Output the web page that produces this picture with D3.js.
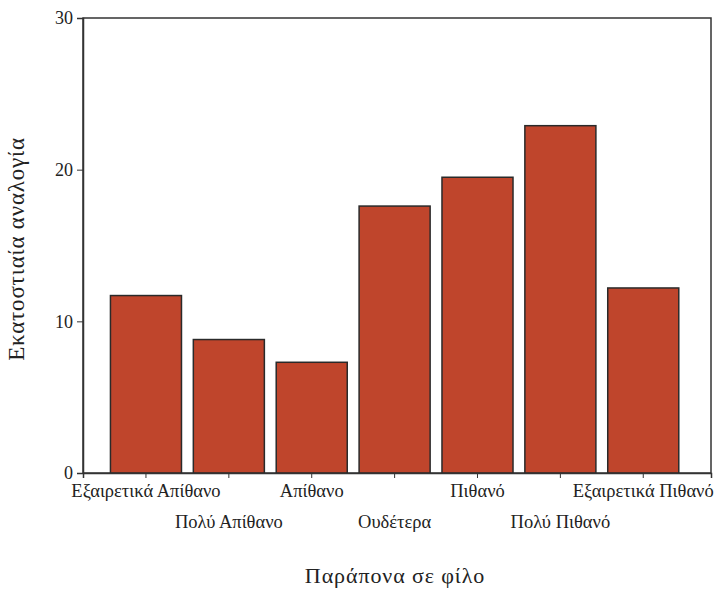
<!DOCTYPE html>
<html><head><meta charset="utf-8">
<script src="https://cdn.jsdelivr.net/npm/d3@7/dist/d3.min.js"></script>
<style>body{margin:0;background:#fff}</style>
</head><body><svg id="c" width="719" height="594"></svg>
<script>
const categories = ["Εξαιρετικά Απίθανο","Πολύ Απίθανο","Απίθανο","Ουδέτερα","Πιθανό","Πολύ Πιθανό","Εξαιρετικά Πιθανό"];
const values = [11.7, 8.8, 7.3, 17.6, 19.5, 22.9, 12.2];
const yTicks = [0, 10, 20, 30];
const yTitle = "Εκατοστιαία αναλογία";
const xTitle = "Παράπονα σε φίλο";

const FONT = "Liberation Serif";
const svg = d3.select("#c");
const L = 83, R = 711, T = 18, B = 473;
const x = d3.scaleBand().domain(categories).range([L, R])
  .paddingInner(0.143).paddingOuter(0.36).align(0.46);
const y = d3.scaleLinear().domain([0, 30]).range([B, T]);

svg.append("rect").attr("x", L).attr("y", T).attr("width", R - L).attr("height", B - T)
  .attr("fill", "none").attr("stroke", "#333").attr("stroke-width", 1.5);

svg.selectAll("rect.bar").data(values).join("rect").attr("class", "bar")
  .attr("x", (d, i) => x(categories[i])).attr("width", x.bandwidth())
  .attr("y", d => y(d)).attr("height", d => B - y(d))
  .attr("fill", "#bf452c").attr("stroke", "#2a2a2a").attr("stroke-width", 1.5);

const yAxis = d3.axisLeft(y).tickValues(yTicks).tickSize(6).tickPadding(4).tickFormat(d3.format("d"));
const gy = svg.append("g").attr("transform", `translate(${L},0)`).call(yAxis)
  .attr("font-family", FONT).attr("font-size", 18);
gy.select(".domain").attr("stroke", "#333").attr("stroke-width", 1.5);
gy.selectAll(".tick line").attr("stroke", "#333");
gy.selectAll(".tick text").attr("fill", "#222");

const xAxis = d3.axisBottom(x).tickSize(5).tickPadding(0);
const gx = svg.append("g").attr("transform", `translate(0,${B})`).call(xAxis)
  .attr("font-family", FONT).attr("font-size", 18.5);
gx.select(".domain").attr("stroke", "#333").attr("stroke-width", 1.5);
gx.selectAll(".tick line").attr("stroke", "#333");
gx.selectAll(".tick text").attr("fill", "#222")
  .attr("dy", null).attr("y", (d, i) => i % 2 === 0 ? 24 : 55);

svg.append("text").attr("transform", `translate(24,249) rotate(-90)`)
  .attr("font-family", FONT).attr("fill", "#222").attr("letter-spacing", 0.8)
  .attr("text-anchor", "middle").attr("font-size", 23).text(yTitle);
svg.append("text").attr("x", 395).attr("y", 583)
  .attr("font-family", FONT).attr("fill", "#222").attr("letter-spacing", 0.9)
  .attr("text-anchor", "middle").attr("font-size", 22).text(xTitle);
</script></body></html>
